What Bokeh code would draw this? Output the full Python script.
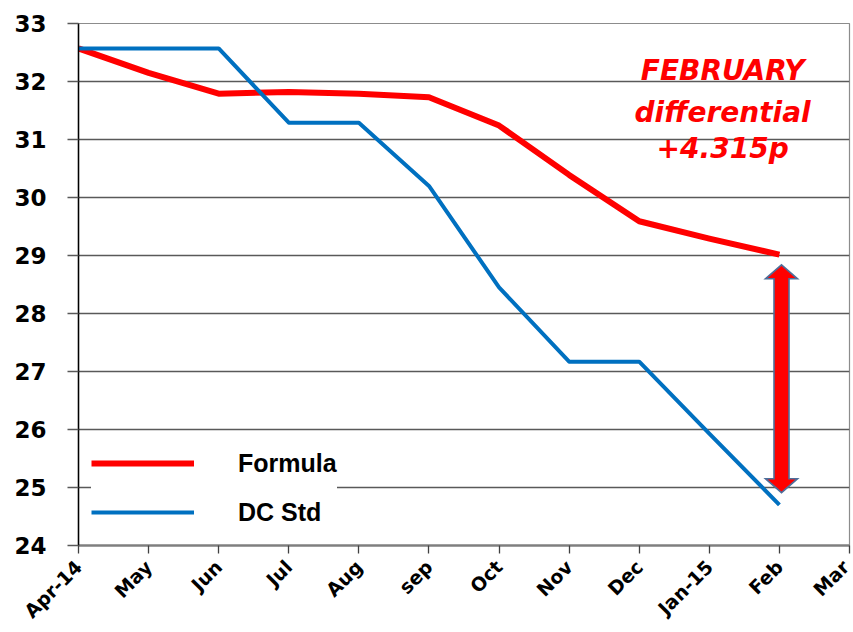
from bokeh.plotting import figure
from bokeh.models import (FixedTicker, Legend, LegendItem, Label, Range1d)
from bokeh.embed import file_html
from bokeh.resources import INLINE
import math

# ---- data ----
months = ["Apr-14", "May", "Jun", "Jul", "Aug", "sep", "Oct", "Nov", "Dec", "Jan-15", "Feb", "Mar"]
formula = [32.57, 32.15, 31.79, 31.82, 31.79, 31.73, 31.24, 30.39, 29.59, 29.29, 29.015]
dc_std = [32.57, 32.57, 32.57, 31.29, 31.29, 30.20, 28.45, 27.17, 27.17, 25.93, 24.70]
y_ticks = [24, 25, 26, 27, 28, 29, 30, 31, 32, 33]
note_lines = ["FEBRUARY", "differential", "+4.315p"]
note_y = [32.19, 31.47, 30.85]
arrow_x = 10.03
arrow_top = 28.84
arrow_bottom = 24.91

W, H = 853, 632
BL, BR, BT, BB = 78, 4, 23, 87
n = len(months)
p = figure(width=W, height=H, output_backend="svg", toolbar_location=None,
           x_range=Range1d(0, n - 1), y_range=Range1d(y_ticks[0], y_ticks[-1]),
           min_border_left=BL, min_border_right=BR, min_border_top=BT, min_border_bottom=BB)
p.background_fill_color = "white"
p.border_fill_color = "white"
p.outline_line_color = "#8c8c8c"
p.outline_line_width = 1.2

# grid
p.xgrid.visible = False
p.ygrid.ticker = FixedTicker(ticks=y_ticks)
p.ygrid.grid_line_color = "#595959"
p.ygrid.grid_line_width = 1.3

# y axis
ya = p.yaxis[0]
ya.ticker = FixedTicker(ticks=y_ticks)
ya.axis_line_color = "black"
ya.axis_line_width = 1.5
ya.major_tick_line_color = "#595959"
ya.major_tick_line_width = 1.3
ya.major_tick_out = 11
ya.major_tick_in = 0
ya.minor_tick_line_color = None
ya.major_label_standoff = 21
ya.major_label_text_font = "DejaVu Sans"
ya.major_label_text_font_style = "bold"
ya.major_label_text_font_size = "23px"
ya.major_label_text_color = "black"

# x axis
xa = p.xaxis[0]
xa.ticker = FixedTicker(ticks=list(range(n)))
xa.major_label_overrides = {i: m for i, m in enumerate(months)}
xa.axis_line_color = "#7f7f7f"
xa.axis_line_width = 2.5
xa.major_tick_line_color = "#404040"
xa.major_tick_line_width = 1.3
xa.major_tick_out = 8
xa.major_tick_in = 0
xa.minor_tick_line_color = None
xa.major_label_orientation = math.pi / 4
xa.major_label_standoff = 10
xa.major_label_text_font = "DejaVu Sans"
xa.major_label_text_font_style = "bold"
xa.major_label_text_font_size = "19px"
xa.major_label_text_color = "black"

xs = list(range(len(formula)))
r_formula = p.line(xs, formula, line_color="#FF0000", line_width=6, line_join="round")
r_dc = p.line(xs, dc_std, line_color="#0070C0", line_width=4, line_join="round")

# double-headed arrow (shape in pixels converted to data units)
px_x = (W - BL - BR) / (n - 1)
px_y = (H - BT - BB) / (y_ticks[-1] - y_ticks[0])
hw_head = 16 / px_x
hw_shaft = 7.5 / px_x
hl = 14 / px_y
ax = [arrow_x, arrow_x + hw_head, arrow_x + hw_shaft, arrow_x + hw_shaft, arrow_x + hw_head,
      arrow_x, arrow_x - hw_head, arrow_x - hw_shaft, arrow_x - hw_shaft, arrow_x - hw_head]
ay = [arrow_top, arrow_top - hl, arrow_top - hl, arrow_bottom + hl, arrow_bottom + hl,
      arrow_bottom, arrow_bottom + hl, arrow_bottom + hl, arrow_top - hl, arrow_top - hl]
p.patch(ax, ay, fill_color="#FF0000", line_color="#4E6E9A", line_width=1.6, line_join="miter")

# annotation text
for t, yv in zip(note_lines, note_y):
    p.add_layout(Label(x=9.19, y=yv, text=t, text_align="center", text_baseline="alphabetic",
                       text_font="DejaVu Sans", text_font_style="bold italic",
                       text_font_size="28px", text_color="#FF0000"))

# ppl unit label
p.add_layout(Label(x=-0.685, y=28.47, text="ppl", text_align="center", text_baseline="middle",
                   text_font="Liberation Sans", text_font_size="20px", text_color="black"))

legend = Legend(items=[LegendItem(label="Formula", renderers=[r_formula]),
                       LegendItem(label="DC Std", renderers=[r_dc])],
                location=(13, 18), padding=6, margin=0, spacing=19,
                glyph_width=103, glyph_height=30, label_height=30, label_standoff=44,
                label_text_font="Liberation Sans", label_text_font_style="bold",
                label_text_font_size="25px", label_text_color="black",
                border_line_color=None, background_fill_color="white", background_fill_alpha=1.0)
p.add_layout(legend)

open("out.html", "w").write(file_html(p, INLINE))
